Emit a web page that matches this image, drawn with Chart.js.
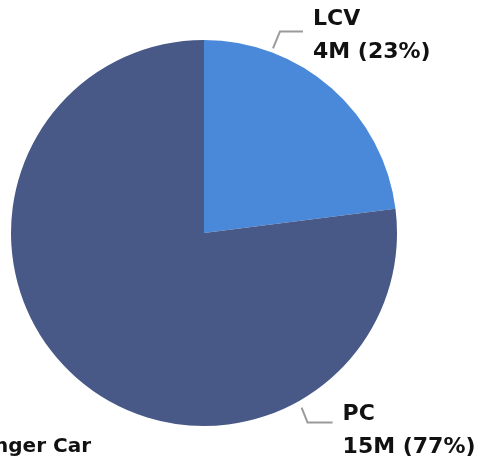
<!DOCTYPE html>
<html>
<head>
<meta charset="utf-8">
<script src="https://cdn.jsdelivr.net/npm/chart.js@4/dist/chart.umd.min.js"></script>
<style>
html,body{margin:0;padding:0;background:#fff;}
#wrap{width:481px;height:461px;position:relative;}
</style>
</head>
<body>
<div id="wrap"><canvas id="c" width="481" height="461"></canvas></div>
<script>
const categories = ['LCV', 'PC'];
const shares = [23, 77];            // percent of total
const volumes = ['4M', '15M'];
const colors = ['#4a88d9', '#485887'];
const caption = 'Passenger Car';

// label layout: leader start angle (deg from top, clockwise), elbow & text offsets
const labelLayout = [
  {angle: 20.5, r: 197, elbow: [7, -17], end: [30, -17], text: [40, -23], align: 'left'},
  {angle: 150.8, r: 200, elbow: [6, 15], end: [31, 15], text: [41, 12], align: 'left'}
];

const labelPlugin = {
  id: 'leaderLabels',
  afterDraw(chart) {
    const ctx = chart.ctx;
    const meta = chart.getDatasetMeta(0);
    const arc0 = meta.data[0];
    const cx = arc0.x, cy = arc0.y;
    ctx.save();
    categories.forEach((cat, i) => {
      const L = labelLayout[i];
      const a = L.angle * Math.PI / 180;
      const sx = cx + L.r * Math.sin(a);
      const sy = cy - L.r * Math.cos(a);
      ctx.strokeStyle = '#9a9a9a';
      ctx.lineWidth = 2;
      ctx.beginPath();
      ctx.moveTo(sx, sy);
      ctx.lineTo(sx + L.elbow[0], sy + L.elbow[1]);
      ctx.lineTo(sx + L.end[0], sy + L.end[1]);
      ctx.stroke();
      ctx.fillStyle = '#111';
      ctx.font = 'bold 22px "DejaVu Sans"';
      ctx.textAlign = 'left';
      ctx.textBaseline = 'alphabetic';
      const tx = sx + L.text[0], ty = sy + L.text[1];
      ctx.fillText(cat, tx, ty);
      ctx.fillText(volumes[i] + ' (' + shares[i] + '%)', tx, ty + 33);
    });
    ctx.font = 'bold 20px "DejaVu Sans"';
    ctx.textAlign = 'right';
    ctx.fillText(caption, 91, 452);
    ctx.restore();
  }
};

new Chart(document.getElementById('c'), {
  type: 'pie',
  data: {
    labels: categories,
    datasets: [{
      data: shares,
      backgroundColor: colors,
      borderWidth: 0
    }]
  },
  options: {
    responsive: false,
    animation: false,
    layout: {padding: {left: 11, right: 84, top: 40, bottom: 35}},
    plugins: {legend: {display: false}, tooltip: {enabled: false}}
  },
  plugins: [labelPlugin]
});
</script>
</body>
</html>
